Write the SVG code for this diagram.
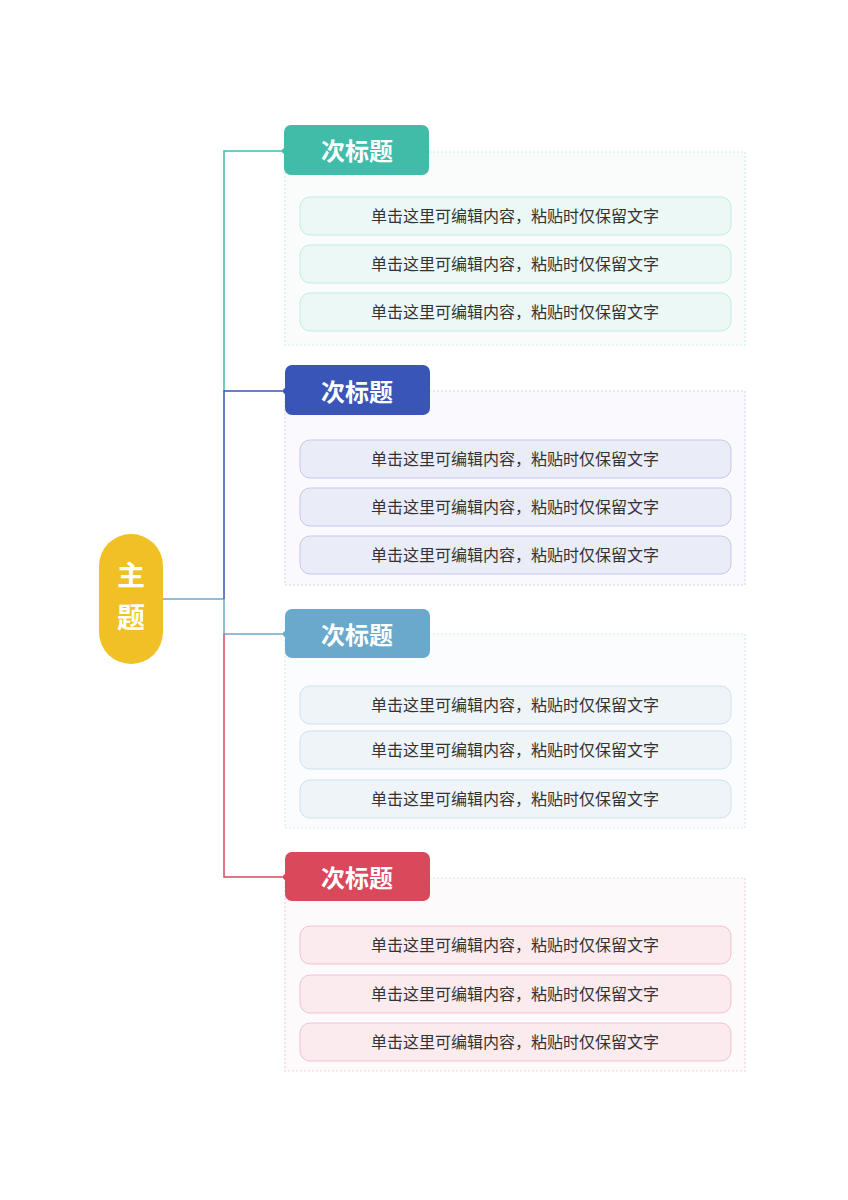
<svg xmlns="http://www.w3.org/2000/svg" width="848" height="1200" viewBox="0 0 848 1200">
<style>
.h{font-family:"Noto Sans CJK SC","Noto Sans",sans-serif;font-weight:bold;font-size:24px;fill:#fff;text-anchor:middle}
.t{font-family:"Noto Sans CJK SC","Noto Sans",sans-serif;font-size:16px;fill:#333;text-anchor:middle}
.p{stroke-width:1.2;stroke-dasharray:2 2}
.ln{fill:none;stroke-width:1.5}
</style>
<rect width="848" height="1200" fill="#fff"/>
<g id="connectors">
<path class="ln" stroke="#6aa9cc" d="M163 599H224"/>
<path class="ln" stroke="#40bca9" d="M224 391V151H285"/>
<path class="ln" stroke="#3a55b8" d="M224 599V391H285"/>
<path class="ln" stroke="#6aa9cc" d="M224 599V634H285"/>
<path class="ln" stroke="#d9485b" d="M224 634V877H285"/>
</g>
<g id="main">
<rect x="99" y="534" width="64" height="130" rx="32" fill="#f0c024"/>
<text class="h" x="131" y="586" style="font-size:28px">主</text>
<text class="h" x="131" y="628" style="font-size:28px">题</text>
</g>
<g id="g1">
<rect class="p" x="285" y="152" width="460" height="193" fill="#f9fcfb" stroke="#cdeee8"/>
<rect x="284" y="125" width="145" height="50" rx="7" fill="#40bca9"/>
<circle cx="285" cy="151" r="3" fill="#40bca9"/>
<text class="h" x="357" y="160">次标题</text>
<g fill="#ecf8f5" stroke="#c4ebe3">
<rect x="300" y="197" width="431" height="38" rx="10"/><rect x="300" y="245" width="431" height="38" rx="10"/><rect x="300" y="293" width="431" height="38" rx="10"/></g>
<text class="t" x="515" y="222">单击这里可编辑内容，粘贴时仅保留文字</text>
<text class="t" x="515" y="270">单击这里可编辑内容，粘贴时仅保留文字</text>
<text class="t" x="515" y="318">单击这里可编辑内容，粘贴时仅保留文字</text>
</g>
<g id="g2">
<rect class="p" x="285" y="391" width="460" height="194" fill="#fafafe" stroke="#d4d6f0"/>
<rect x="285" y="365" width="145" height="50" rx="7" fill="#3a55b8"/>
<circle cx="286" cy="391" r="3" fill="#3a55b8"/>
<text class="h" x="357" y="401">次标题</text>
<g fill="#eaecf8" stroke="#c3c8ee">
<rect x="300" y="440" width="431" height="38" rx="10"/><rect x="300" y="488" width="431" height="38" rx="10"/><rect x="300" y="536" width="431" height="38" rx="10"/></g>
<text class="t" x="515" y="465">单击这里可编辑内容，粘贴时仅保留文字</text>
<text class="t" x="515" y="513">单击这里可编辑内容，粘贴时仅保留文字</text>
<text class="t" x="515" y="561">单击这里可编辑内容，粘贴时仅保留文字</text>
</g>
<g id="g3">
<rect class="p" x="285" y="634" width="460" height="194" fill="#fafcfd" stroke="#d6e7f1"/>
<rect x="285" y="609" width="145" height="49" rx="7" fill="#6aa9cc"/>
<circle cx="286" cy="634" r="3" fill="#6aa9cc"/>
<text class="h" x="357" y="644">次标题</text>
<g fill="#eef4f8" stroke="#cde2ee">
<rect x="300" y="686" width="431" height="38" rx="10"/><rect x="300" y="731" width="431" height="38" rx="10"/><rect x="300" y="780" width="431" height="38" rx="10"/></g>
<text class="t" x="515" y="711">单击这里可编辑内容，粘贴时仅保留文字</text>
<text class="t" x="515" y="756">单击这里可编辑内容，粘贴时仅保留文字</text>
<text class="t" x="515" y="805">单击这里可编辑内容，粘贴时仅保留文字</text>
</g>
<g id="g4">
<rect class="p" x="285" y="878" width="460" height="193" fill="#fdfafb" stroke="#f3d2d9"/>
<rect x="285" y="852" width="145" height="49" rx="7" fill="#d9485b"/>
<circle cx="286" cy="877" r="3" fill="#d9485b"/>
<text class="h" x="357" y="887">次标题</text>
<g fill="#fbeaee" stroke="#f1c3cc">
<rect x="300" y="926" width="431" height="38" rx="10"/><rect x="300" y="975" width="431" height="38" rx="10"/><rect x="300" y="1023" width="431" height="38" rx="10"/></g>
<text class="t" x="515" y="951">单击这里可编辑内容，粘贴时仅保留文字</text>
<text class="t" x="515" y="1000">单击这里可编辑内容，粘贴时仅保留文字</text>
<text class="t" x="515" y="1048">单击这里可编辑内容，粘贴时仅保留文字</text>
</g>
</svg>
